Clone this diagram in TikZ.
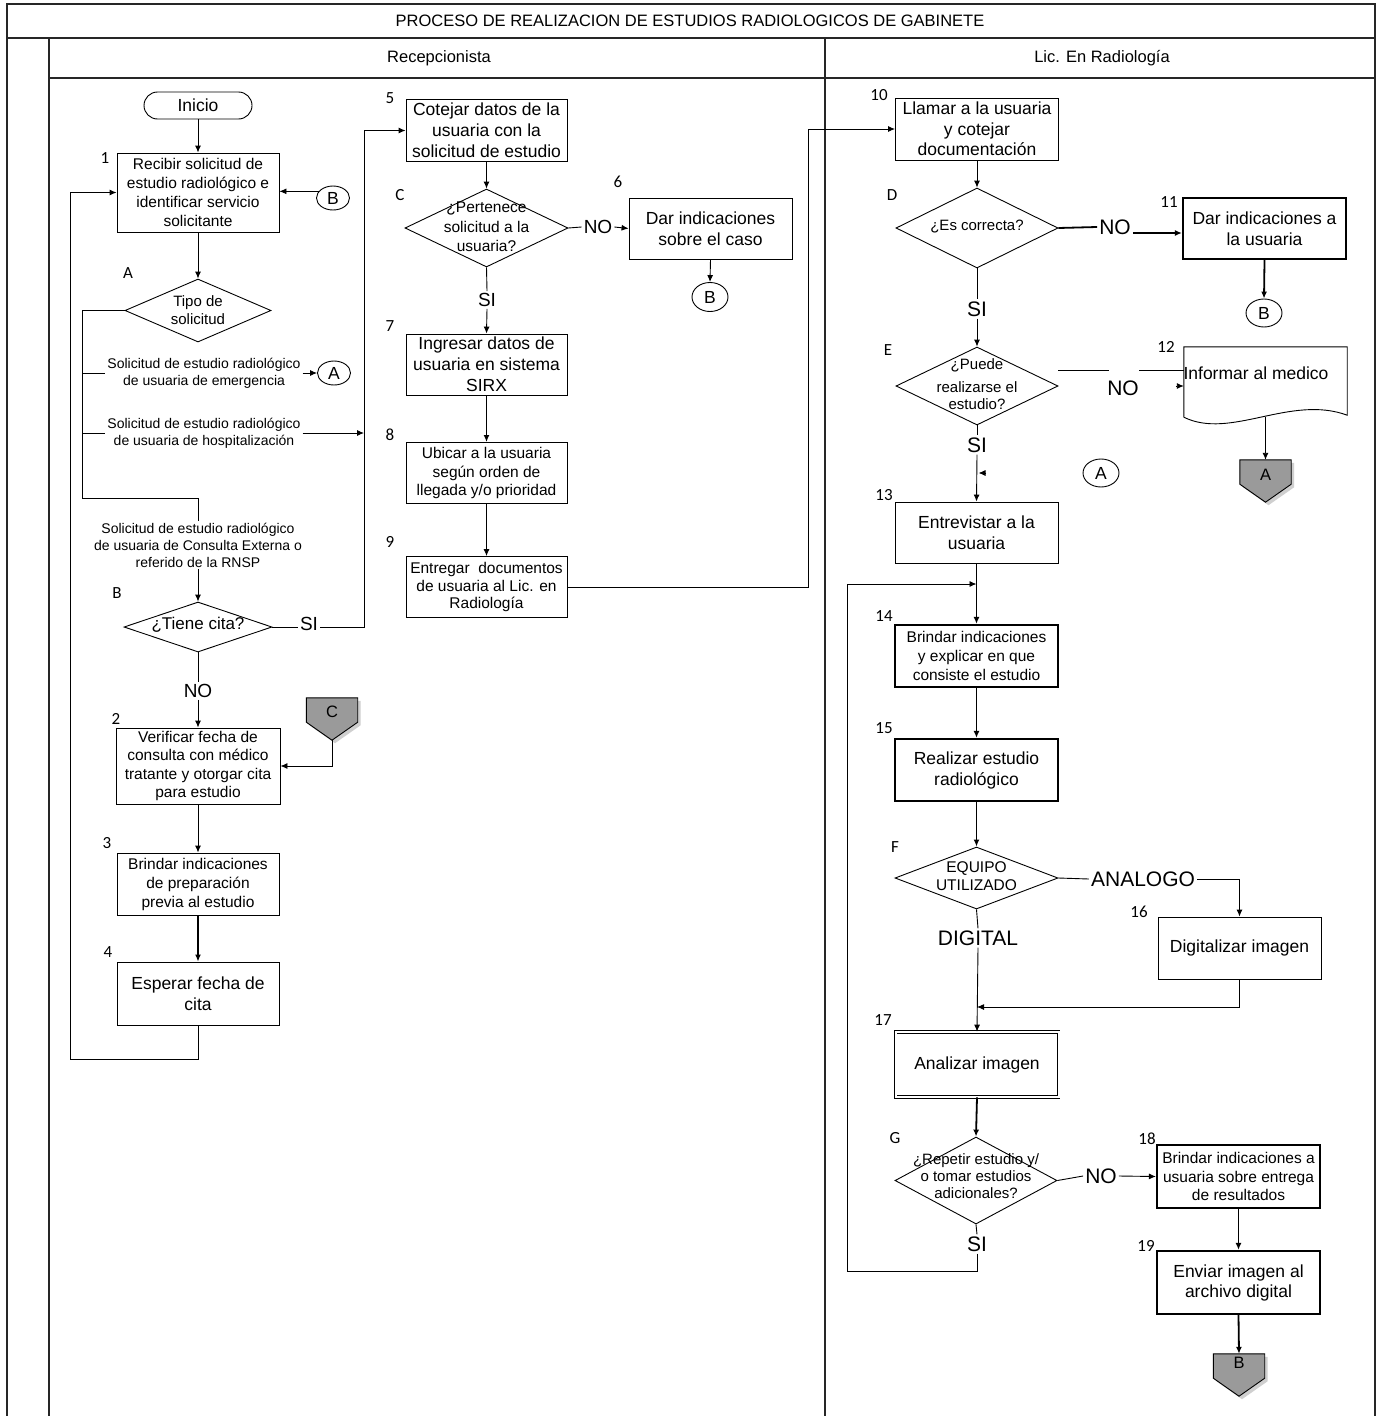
\documentclass[tikz,border=0pt]{standalone}
\usepackage{fontspec}
\setmainfont{Liberation Sans}
\newfontfamily\numfont{Carlito}
\usetikzlibrary{shapes.geometric,arrows.meta,calc}
\definecolor{offgray}{HTML}{9A9A9A}
\definecolor{shad}{HTML}{CFCFCF}
\newcommand\offpg[4]{%
 \node[minimum width=51pt, minimum height=42pt, inner sep=0pt] (#1) at (#2) {};
 \fill[shad] ([xshift=3pt,yshift=-3pt]#1.north west) -- ([xshift=3pt,yshift=-3pt]#1.north east) -- ([xshift=3pt,yshift=15pt]#1.south east) -- ([xshift=3pt,yshift=-3pt]#1.south) -- ([xshift=3pt,yshift=15pt]#1.south west) -- cycle;
 \draw[line width=0.9pt, fill=offgray] (#1.north west) -- (#1.north east) -- ([yshift=18pt]#1.south east) -- (#1.south) -- ([yshift=18pt]#1.south west) -- cycle;
 \node[font=\fontsize{16.5}{16.5}\selectfont, inner sep=0pt] (#1t) at ([yshift=-#4]#1.north) {#3};
}
\begin{document}
\begin{tikzpicture}[x=1pt,y=-1pt,
  ln/.style={line width=0.9pt},
  bln/.style={line width=1.8pt},
  fr/.style={line width=1.3pt, black!85},
  arr/.style={line width=0.9pt,-{Latex[length=7pt,width=6pt]}},
  barr/.style={line width=1.8pt,-{Latex[length=7pt,width=6pt]}},
  box/.style={draw,line width=0.9pt,rectangle,align=center,minimum width=163pt,minimum height=62pt,inner sep=1pt},
  bbox/.style={box,line width=2.2pt},
  dia/.style={draw,line width=0.9pt,diamond,inner sep=0pt},
  conn/.style={draw,line width=0.9pt,ellipse,inner sep=0pt,minimum width=35pt,minimum height=27pt,font=\fontsize{17.5}{17.5}\selectfont},
  txt/.style={inner sep=2pt,align=center},
  fB/.style={font=\fontsize{17.5}{21}\selectfont},
  fM/.style={font=\fontsize{15.5}{19}\selectfont},
  fS/.style={font=\fontsize{14}{17}\selectfont},
  fD/.style={font=\fontsize{15}{18}\selectfont},
  num/.style={inner sep=0pt,font=\numfont\fontsize{17}{17}\selectfont},
  yn/.style={inner sep=2pt,font=\fontsize{19}{19}\selectfont},
  ynb/.style={inner sep=2pt,font=\fontsize{21}{21}\selectfont},
]
\useasboundingbox (0,0) rectangle (1380,1416);
\fill[white] (0,0) rectangle (1380,1416);

% ---------- frame ----------
\draw[fr] (7,1416) -- (7,4) -- (1375,4) -- (1375,1416);
\draw[fr] (7,38) -- (1375,38);
\draw[fr] (49,78) -- (1375,78);
\draw[fr] (49,38) -- (49,1416);
\draw[fr] (825,38) -- (825,1416);
\node[font=\fontsize{16.5}{16.5}\selectfont] (title) at (690,21) {PROCESO DE REALIZACION DE ESTUDIOS RADIOLOGICOS DE GABINETE};
\node[font=\fontsize{16.5}{16.5}\selectfont] (lane1) at (439,58) {Recepcionista};
\node[font=\fontsize{16.5}{16.5}\selectfont] (lane2) at (1102,58) {Lic. En Radiología};

% ---------- Recepcionista: left column ----------
\node[draw, ln, rounded corners=13.5pt, minimum width=108pt, minimum height=27pt, inner sep=0pt, fB] (ini) at (198,105.5) {Inicio};
\node[box, fM, minimum width=162pt, minimum height=79pt] (b1) at (198,192.5) {Recibir solicitud de\\estudio radiológico e\\identificar servicio\\solicitante};
\node[conn, minimum width=33pt, minimum height=24pt] (cB1) at (333,198) {B};
\node[dia, minimum width=146pt, minimum height=63pt] (dA) at (198,310.5) {};
\node[txt, font=\fontsize{15}{18.5}\selectfont] (tA) at (198,310) {Tipo de\\solicitud};
\node[txt, fS] (tEm) at (204,373) {Solicitud de estudio radiológico\\de usuaria de emergencia};
\node[conn, minimum width=33pt, minimum height=24pt] (cA1) at (334,373) {A};
\node[txt, fS] (tHo) at (204,433) {Solicitud de estudio radiológico\\de usuaria de hospitalización};
\node[txt, fS] (tCE) at (198,545) {Solicitud de estudio radiológico\\de usuaria de Consulta Externa o\\referido de la RNSP};
\node[dia, minimum width=148pt, minimum height=50pt] (dB) at (198,627) {};
\node[txt, font=\fontsize{17}{17}\selectfont] (tB) at (198,625) {¿Tiene cita?};
\node[yn, anchor=base] (siB) at (309,630) {SI};
\node[yn] (noB) at (198,691) {NO};
\node[box, fM, minimum width=164pt, minimum height=76pt, font=\fontsize{15.5}{18.5}\selectfont] (b2) at (198,766) {Verificar fecha de\\consulta con médico\\tratante y otorgar cita\\para estudio};
\offpg{offC}{332,719}{C}{14pt}
\node[box, fM, minimum width=162pt, minimum height=62pt] (b3) at (198,884) {Brindar indicaciones\\de preparación\\previa al estudio};
\node[box, fB, minimum width=162pt, minimum height=63pt] (b4) at (198,993.5) {Esperar fecha de\\cita};

% ---------- Recepcionista: middle column ----------
\node[box, fB, minimum width=161pt] (b5) at (486.5,130.5) {Cotejar datos de la\\usuaria con la\\solicitud de estudio};
\node[dia, minimum width=163pt, minimum height=78pt] (dC) at (486.5,228) {};
\node[txt, font=\fontsize{15.5}{19.5}\selectfont] (tC) at (486.5,227) {¿Pertenece\\solicitud a la\\usuaria?};
\node[yn] (noC) at (598,227) {NO};
\node[box, fB, minimum height=61pt] (b6) at (710.5,228.5) {Dar indicaciones\\sobre el caso};
\node[conn, minimum width=36pt, minimum height=29pt] (cB2) at (710,297) {B};
\node[yn] (siC) at (487,300) {SI};
\node[box, fB, minimum width=161pt, minimum height=61pt] (b7) at (486.5,364.5) {Ingresar datos de\\usuaria en sistema\\SIRX};
\node[box, minimum width=161pt, minimum height=61pt, font=\fontsize{15.5}{18.8}\selectfont] (b8) at (486.5,473) {Ubicar a la usuaria\\según orden de\\llegada y/o prioridad};
\node[box, minimum width=161pt, minimum height=61pt, font=\fontsize{15.5}{17.5}\selectfont] (b9) at (486.5,587) {Entregar~ documentos\\de usuaria al Lic. en\\Radiología};

% ---------- Lic. en Radiologia ----------
\node[box, fB, font=\fontsize{17.5}{20.5}\selectfont] (b10) at (977,129) {Llamar a la usuaria\\y cotejar\\documentación};
\node[dia, minimum width=162pt, minimum height=80pt] (dD) at (977,228) {};
\node[txt, fD] (tD) at (977,227) {¿Es correcta?};
\node[ynb] (noD) at (1115,227) {NO};
\node[bbox, fB, minimum height=61pt] (b11) at (1264.5,228.5) {Dar indicaciones a\\la usuaria};
\node[conn, minimum width=36pt, minimum height=28pt] (cB3) at (1264,313) {B};
\node[ynb] (siD) at (977,309) {SI};
\node[dia, minimum width=162pt, minimum height=78pt] (dE) at (977,386) {};
\node[txt, font=\fontsize{15}{17}\selectfont] (tE) at (977,384) {¿Puede\\[6pt]realizarse el\\estudio?};
\node[ynb] (noE) at (1123,388) {NO};
\node[minimum width=163pt, minimum height=70pt, inner sep=0pt] (doc12) at (1265.5,382) {};
\draw[ln] (doc12.south west) -- (doc12.north west) -- (doc12.north east) -- ([yshift=2pt]doc12.south east) .. controls ($(doc12.south)+(25,-23)$) and ($(doc12.south)+(-35,23)$) .. (doc12.south west);
\node[fB, inner sep=0pt] (t12) at (1256,373) {Informar al medico};
\offpg{offA}{1265.5,481}{A}{15pt}
\node[conn, minimum width=36pt, minimum height=28pt] (cA2) at (1101,473) {A};
\node[ynb] (siE) at (977,445) {SI};
\node[box, fB, minimum height=61pt] (b13) at (976.5,532.5) {Entrevistar a la\\usuaria};
\node[bbox, fM] (b14) at (976.5,656) {Brindar indicaciones\\y explicar en que\\consiste el estudio};
\node[bbox, fB] (b15) at (976.5,770) {Realizar estudio\\radiológico};
\node[dia, minimum width=163pt, minimum height=62pt] (dF) at (976.5,878) {};
\node[txt, font=\fontsize{15.5}{18}\selectfont] (tF) at (976.5,876) {EQUIPO\\UTILIZADO};
\node[ynb] (tAn) at (1143,879) {ANALOGO};
\node[box, fB] (b16) at (1239.5,948) {Digitalizar imagen};
\node[ynb] (tDig) at (978,938) {DIGITAL};
\node[box, fB, minimum height=65pt, double, double distance=2pt, line width=0.7pt] (b17) at (977,1064.5) {Analizar imagen};
\node[dia, minimum width=162pt, minimum height=87pt] (dG) at (976,1180.5) {};
\node[txt, font=\fontsize{15}{17}\selectfont] (tG) at (976,1176) {¿Repetir estudio y/\\o tomar estudios\\adicionales?};
\node[ynb] (noG) at (1101,1176) {NO};
\node[bbox, minimum height=63pt, font=\fontsize{15.5}{18.3}\selectfont] (b18) at (1238.5,1176.5) {Brindar indicaciones a\\usuaria sobre entrega\\de resultados};
\node[bbox, fB, minimum height=63pt, font=\fontsize{17.5}{20}\selectfont] (b19) at (1238.5,1282.5) {Enviar imagen al\\archivo digital};
\offpg{offB}{1239,1375}{B}{9pt}
\node[ynb] (siG) at (977,1244) {SI};

% ---------- step numbers and letters ----------
\node[num] (n1) at (105,158) {1};
\node[num] (n2) at (116,719) {2};
\node[num] (n3) at (107,843) {3};
\node[num] (n4) at (108,952) {4};
\node[num] (n5) at (390,98) {5};
\node[num] (n6) at (618,182) {6};
\node[num] (n7) at (390,326) {7};
\node[num] (n8) at (390,435) {8};
\node[num] (n9) at (390,542) {9};
\node[num] (n10) at (879,95) {10};
\node[num] (n11) at (1169,202) {11};
\node[num] (n12) at (1166,347) {12};
\node[num] (n13) at (884,495) {13};
\node[num] (n14) at (884,616) {14};
\node[num] (n15) at (884,728) {15};
\node[num] (n16) at (1139,912) {16};
\node[num] (n17) at (883,1020) {17};
\node[num] (n18) at (1147,1139) {18};
\node[num] (n19) at (1146,1246) {19};
\node[num] (lA) at (128,273) {A};
\node[num] (lB) at (117,593) {B};
\node[num] (lC) at (400,195) {C};
\node[num] (lD) at (892,195) {D};
\node[num] (lE) at (888,350) {E};
\node[num] (lF) at (895,847) {F};
\node[num] (lG) at (895,1138) {G};

% ---------- connectors: left column ----------
\coordinate (xb) at (82,0);
\coordinate (kb) at (82,498);
\coordinate (xs) at (364,0);
\coordinate (lp) at (70,1059);
\draw[arr] (ini.south) -- (b1.north);
\draw[arr] (cB1.155) -- (cB1.155 -| b1.east);
\draw[arr] (b1.south) -- (dA.north);
\draw[ln] (dA.west) -| (kb) -| (tCE.north);
\draw[ln] (xb |- tEm.west) -- (tEm.west);
\draw[arr] (tEm.east) -- (cA1.west);
\draw[ln] (xb |- tHo.west) -- (tHo.west);
\draw[arr] (tHo.east) -- (tHo.east -| xs);
\draw[arr] (tCE.south) -- (dB.north);
\draw[ln] (dB.east) -- (dB.east -| siB.west);
\draw[arr] (dB.east -| siB.east) -- (dB.east -| xs) |- (b5.west);
\draw[ln] (dB.south) -- (noB.north);
\draw[arr] (noB.south) -- (b2.north);
\draw[arr] (offC.south) |- (b2.east);
\draw[arr] (b2.south) -- (b3.north);
\draw[barr] (b3.south) -- (b4.north);
\draw[arr] (b4.south) |- (lp) |- (b1.west);

% ---------- connectors: middle column ----------
\coordinate (x9) at (808,0);
\draw[arr] (b5.south) -- (dC.north);
\draw[ln] (dC.east) -- (noC.west);
\draw[arr] (noC.east) -- (b6.west);
\draw[arr] (b6.south) -- (cB2.north);
\draw[ln] (dC.south) -- (siC.north);
\draw[arr] (siC.south) -- (b7.north);
\draw[barr] (b7.south) -- (b8.north);
\draw[arr] (b8.south) -- (b9.north);
\draw[arr] (b9.east) -| (x9 |- b10.west) -- (b10.west);

% ---------- connectors: right column ----------
\coordinate (lg1) at (847,1271);
\coordinate (lg2) at (976.5,584);
\coordinate (m17) at (977,1007);
\draw[arr] (b10.south) -- (dD.north);
\draw[bln] (dD.east) -- (noD.west);
\draw[barr] ([yshift=-6pt]noD.east) -- ([yshift=-6pt]noD.east -| b11.west);
\draw[barr] (b11.south) -- (cB3.north);
\draw[ln] (dD.south) -- (siD.north);
\draw[arr] (siD.south) -- (dE.north);
\draw[ln] ([yshift=16pt]dE.east) -- ++(51,0);
\draw[ln] ([yshift=16pt]dE.east -| doc12.west) -- ++(-45,0);
\draw[arr] ($(doc12.west |- dE.east)+(-8,0)$) -- (doc12.west |- dE.east);
\draw[arr] (doc12.south) -- (offA.north);
\draw[ln] (dE.south) -- (siE.north);
\draw[arr] (siE.south) -- (b13.north);
\draw[arr] ($(siE.south |- cA2)+(9,0)$) -- ($(siE.south |- cA2)+(1.5,0)$);
\draw[barr] (b13.south) -- (b14.north);
\draw[barr] (b14.south) -- (b15.north);
\draw[barr] (b15.south) -- (dF.north);
\draw[ln] (dF.east) -- (tAn.west);
\draw[arr] (tAn.east) -| (b16.north);
\draw[ln] (dF.south) -- (tDig.north);
\draw[arr] (tDig.south) -- (b17.north);
\draw[arr] (b16.south) |- (m17);
\draw[barr] (b17.south) -- (dG.north);
\draw[ln] (dG.east) -- (noG.west);
\draw[arr] (noG.east) -- (b18.west);
\draw[barr] (b18.south) -- (b19.north);
\draw[barr] (b19.south) -- (offB.north);
\draw[ln] (dG.south) -- (siG.north);
\draw[arr] (siG.south) |- (lg1) |- (lg2);
\end{tikzpicture}
\end{document}
